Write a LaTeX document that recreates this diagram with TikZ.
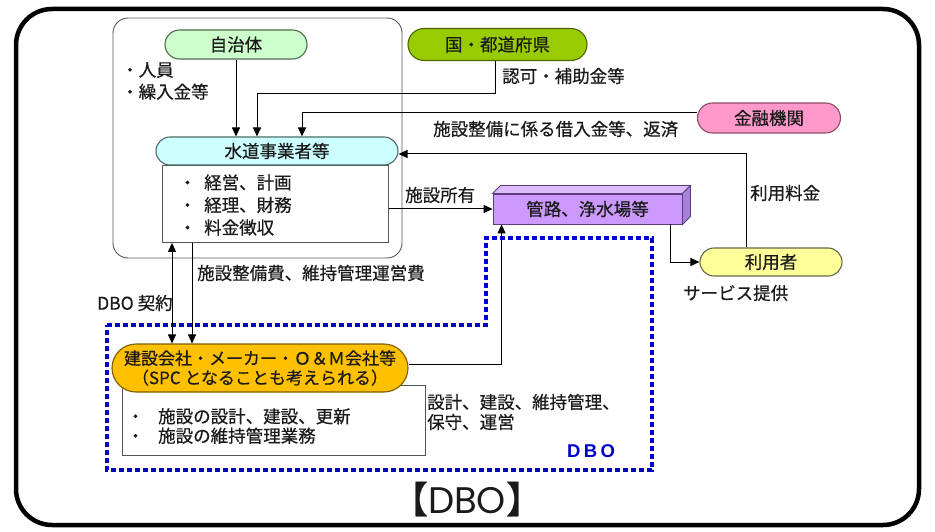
\documentclass[tikz,border=0pt]{standalone}
\usepackage{fontspec}
\setmainfont{Noto Sans CJK JP}[FakeBold=0.5]
\newfontfamily\popfont{Poppins}
\newfontfamily\lsfont{Liberation Sans}
\usetikzlibrary{shapes.misc,arrows.meta}
\definecolor{txt}{HTML}{1A1A1A}
\definecolor{jfill}{HTML}{CCFFCC}\definecolor{jborder}{HTML}{4D6B4D}
\definecolor{kfill}{HTML}{99CC00}\definecolor{kborder}{HTML}{4D6600}
\definecolor{pfill}{HTML}{FF99CC}\definecolor{pborder}{HTML}{8C4D66}
\definecolor{cfill}{HTML}{CCFFFF}\definecolor{cborder}{HTML}{4D6B6B}
\definecolor{yfill}{HTML}{FFFF99}\definecolor{yborder}{HTML}{66664D}
\definecolor{gfill}{HTML}{FFC000}\definecolor{gborder}{HTML}{7A5C00}
\definecolor{vfront}{HTML}{CC99FF}\definecolor{vtop}{HTML}{DDBBFF}
\definecolor{vside}{HTML}{A680D9}\definecolor{vborder}{HTML}{5C3D80}
\definecolor{dboblue}{HTML}{0000CC}
\definecolor{boxline}{HTML}{555555}
\begin{document}
\begin{tikzpicture}[x=1pt,y=-1pt,
  every node/.style={inner sep=0pt, text=txt, font=\fontsize{17.5}{22}\selectfont},
  pill/.style={rounded rectangle, draw=#1, line width=1.1pt},
  lbl/.style={anchor=west},
  arr/.style={draw=black, line width=1pt, -{Triangle[length=9pt,width=8pt]}},
  darr/.style={draw=black, line width=1pt, {Triangle[length=9pt,width=8pt]}-{Triangle[length=9pt,width=8pt]}},
  dboline/.style={draw=dboblue, line width=3.5pt, dash pattern=on 5pt off 3pt},
  plainbox/.style={rectangle, draw=boxline, line width=0.9pt, fill=white, anchor=north west}
]
\useasboundingbox (0,0) rectangle (935,532);
% outer frame
\draw[line width=4.5pt, rounded corners=36pt] (16,9) rectangle (919,525);
% group box
\draw[boxline, line width=0.9pt, rounded corners=15pt] (113,18) rectangle (402,258);
% DBO area
\draw[dboline] (107,325) -- (486,325) -- (486,238) -- (652,238) -- (652,470) -- (107,470) -- cycle;

% boxes
\node[plainbox, minimum width=226pt, minimum height=77pt] (suidobox) at (162,165) {};
\node[plainbox, minimum width=303pt, minimum height=70pt] (kbox) at (122,385) {};

% pills
\node[pill=jborder, fill=jfill, minimum width=142pt, minimum height=29pt] (jichitai) at (236,44.5) {自治体};
\node[pill=kborder, fill=kfill, minimum width=179pt, minimum height=32pt] (kuni) at (497.5,44.5) {国・都道府県};
\node[pill=pborder, fill=pfill, minimum width=143pt, minimum height=30pt] (kinyu) at (769,118) {金融機関};
\node[pill=cborder, fill=cfill, minimum width=242pt, minimum height=28pt] (suido) at (277,151) {水道事業者等};
\node[pill=yborder, fill=yfill, minimum width=142pt, minimum height=28pt] (riyosha) at (771,262) {利用者};
\node[pill=gborder, fill=gfill, minimum width=296pt, minimum height=48pt, align=center,
      font=\fontsize{17}{19.5}\selectfont] (kensetsu) at (260,368) {建設会社・メーカー・Ｏ＆Ｍ会社等\\（SPC となることも考えられる）};

% 3D box
\node[draw=vborder, line width=0.9pt, fill=vfront, minimum width=189pt, minimum height=30pt] (kanro) at (587.5,209) {管路、浄水場等};
\filldraw[fill=vtop, draw=vborder, line width=0.9pt] (kanro.north west) -- ++(8,-8) -- ([shift={(8,-8)}]kanro.north east) -- (kanro.north east) -- cycle;
\filldraw[fill=vside, draw=vborder, line width=0.9pt] (kanro.north east) -- ++(8,-8) -- ([shift={(8,-8)}]kanro.south east) -- (kanro.south east) -- cycle;

% connectors
\coordinate (k1) at (257,94);
\coordinate (k2) at (302,113);
\draw[arr] (jichitai.south) -- (jichitai.south |- suido.north);
\draw[arr] ([xshift=-2pt]kuni.south) |- (k1) -- (k1 |- suido.north);
\draw[arr] ([yshift=5pt]kinyu.west) -- (k2) -- (k2 |- suido.north);
\draw[arr] ([xshift=-25pt]riyosha.north) |- ([yshift=-3pt]suido.east);
\draw[arr] (suidobox.east |- kanro.west) -- (kanro.west);
\draw[arr] ([xshift=-12pt]kanro.south east) |- (riyosha.west);
\draw[arr] ([yshift=4pt]kensetsu.east) -| ([xshift=9pt]kanro.south west);
\draw[darr] ([xshift=10pt]suidobox.south west) -- ([xshift=10pt]suidobox.south west |- kensetsu.north);
\draw[arr] ([xshift=30pt]suidobox.south west) -- ([xshift=30pt]suidobox.south west |- kensetsu.north);

% labels
\node[lbl, align=left] (l1) at (121,81) {・人員\\・繰入金等};
\node[lbl] (l2) at (502,76) {認可・補助金等};
\node[lbl] (l3) at (433,129) {施設整備に係る借入金等、返済};
\node[lbl] (l4) at (750,193) {利用料金};
\node[lbl] (l5) at (405,195) {施設所有};
\node[lbl, align=left, font=\fontsize{17.5}{22.5}\selectfont] (l6) at (178.5,205) {・\hspace{8pt}経営、計画\\・\hspace{8pt}経理、財務\\・\hspace{8pt}料金徴収};
\node[lbl] (l7) at (197,273) {施設整備費、維持管理運営費};
\node[lbl] (l8) at (97,303) {DBO 契約};
\node[lbl] (l9) at (683,293) {サービス提供};
\node[lbl, align=left, font=\fontsize{17.5}{20}\selectfont] (l10) at (427,412) {設計、建設、維持管理、\\保守、運営};
\node[lbl, align=left, font=\fontsize{17.5}{19.5}\selectfont] (l11) at (126.5,426) {・\hspace{14pt}施設の設計、建設、更新\\・\hspace{14pt}施設の維持管理業務};
\node[lbl, text=dboblue, font=\lsfont\bfseries\fontsize{18.5}{20}\selectfont\addfontfeature{LetterSpace=18}] (l12) at (567,451) {DBO};
\node (title) at (467,499) {\fontsize{37}{40}\selectfont 【{\popfont DBO}】};
\end{tikzpicture}
\end{document}
